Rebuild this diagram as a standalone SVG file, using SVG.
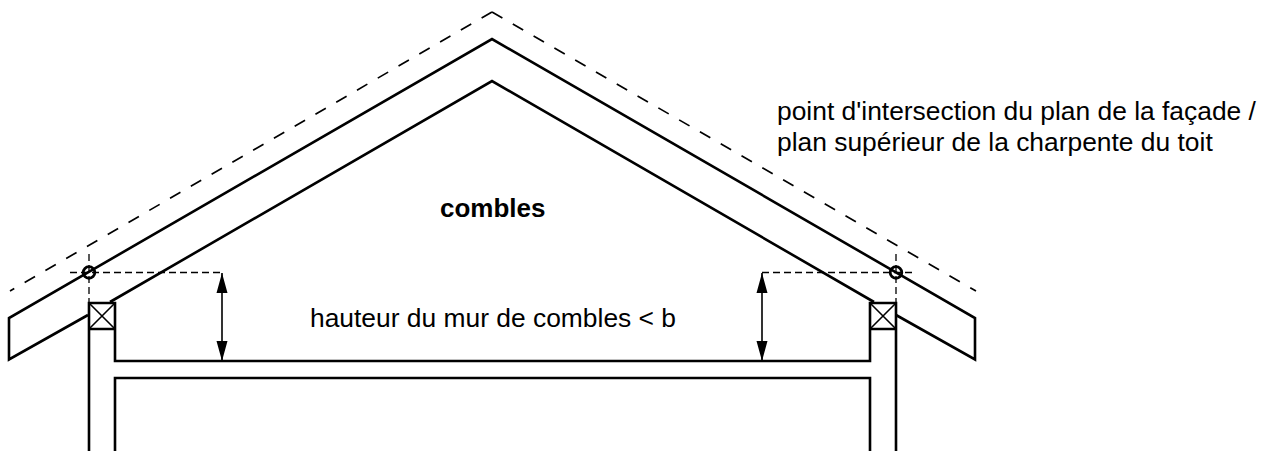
<svg xmlns="http://www.w3.org/2000/svg" width="1269" height="453" viewBox="0 0 1269 453">
<style>
.m{fill:none;stroke:#000;stroke-width:2.6;stroke-linejoin:miter}
.s{fill:none;stroke:#000;stroke-width:1.6}
.d{fill:none;stroke:#000;stroke-width:1.7;stroke-dasharray:12 12}
.f{fill:none;stroke:#000;stroke-width:1.3;stroke-dasharray:7 4}
.a{fill:#000;stroke:none}
text{font-family:"Liberation Sans",Arial,sans-serif;font-size:26.4px;fill:#000}
</style>
<rect width="1269" height="453" fill="#fff"/>
<g id="structure">
<path class="m" d="M88 315L9 359.500V318L492 39L975 318V359.500L896 315"/>
<path class="m" d="M110 302L492 81L874 302"/>
<path class="m" d="M89 451V303H115V361H870V303H896V451"/>
<path class="m" d="M89 329H115M870 329H896"/>
<path class="m" d="M115 451V378H870V451"/>
<path class="s" d="M89 303L115 329M115 303L89 329M870 303L896 329M896 303L870 329"/>
<path class="d" d="M492 12L10 291"/>
<path class="d" d="M492 12L976 291"/>
</g>
<g id="connectors">
<path class="f" d="M70 272.500H222M762 272.500H915M89 254V303M896 254V303"/>
<path class="s" d="M222 273V361M762 273V361" stroke-width="1.2"/>
<path class="a" d="M222 273L227.500 293H216.500ZM222 361L227.500 341H216.500ZM762 273L767.500 293H756.500ZM762 361L767.500 341H756.500Z"/>
<circle cx="89" cy="272.500" r="5.800" fill="none" stroke="#000" stroke-width="2.800"/>
<circle cx="896" cy="272.500" r="5.800" fill="none" stroke="#000" stroke-width="2.800"/>
</g>
<g id="labels">
<text x="440" y="217" font-weight="700" style="font-size:26px">combles</text>
<text x="310" y="326.500">hauteur du mur de combles &lt; b</text>
<text x="777" y="119.500">point d'intersection du plan de la façade /</text>
<text x="777" y="151">plan supérieur de la charpente du toit</text>
</g>
</svg>
